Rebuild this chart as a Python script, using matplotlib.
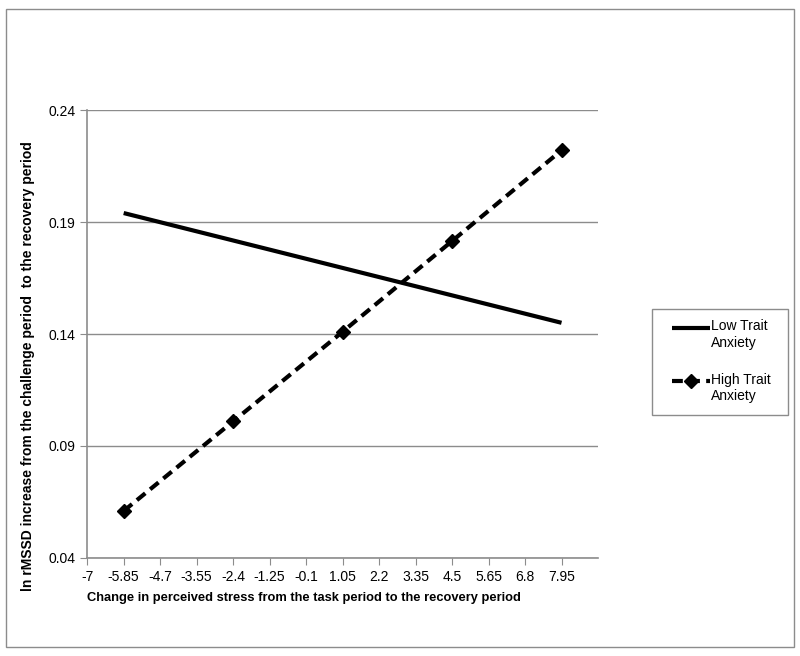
import numpy as np
import matplotlib.pyplot as plt
from matplotlib.patches import Rectangle
from matplotlib.legend_handler import HandlerLine2D

plt.rcParams['font.family'] = ['Liberation Sans', 'DejaVu Sans']

# x tick labels (category-like axis, step 1.15)
x_ticks = [-7, -5.85, -4.7, -3.55, -2.4, -1.25, -0.1, 1.05, 2.2, 3.35, 4.5, 5.65, 6.8, 7.95]
y_ticks = [0.04, 0.09, 0.14, 0.19, 0.24]

# Low trait anxiety (simple slope, end points only)
low_x = [-5.85, 7.95]
low_y = [0.194, 0.145]

# High trait anxiety
high_x = [-5.85, -2.4, 1.05, 4.5, 7.95]
high_y = [0.061, 0.101, 0.141, 0.1815, 0.222]


class TopLineHandler(HandlerLine2D):
    # put the legend handle next to the first text line, like Excel does
    def create_artists(self, legend, orig_handle, xdescent, ydescent, width, height, fontsize, trans):
        return super().create_artists(legend, orig_handle, xdescent, ydescent - 11, width, height,
                                      fontsize, trans)


fig = plt.figure(figsize=(8, 6.56), dpi=100)
ax = fig.add_axes([0.109, 0.1494, 0.6385, 0.6829])

# outer chart border
fig.patches.append(Rectangle((0.008, 0.014), 0.984, 0.973, transform=fig.transFigure,
                             fill=False, edgecolor='#8c8c8c', linewidth=1.0))
# legend frame (drawn by hand, Excel style)
fig.patches.append(Rectangle((652 / 800, 1 - 415 / 656), 136 / 800, 106 / 656, transform=fig.transFigure,
                             fill=False, edgecolor='#8c8c8c', linewidth=1.0))

ax.plot(low_x, low_y, color='black', linewidth=3, solid_capstyle='butt', label='Low Trait\nAnxiety')
ax.plot(high_x, high_y, color='black', linewidth=3, linestyle=(0, (2.6, 1.5)),
        marker='D', markersize=7, label='High Trait\nAnxiety')

ax.set_xlim(-7, 9.1)
ax.set_ylim(0.04, 0.24)
ax.set_xticks(x_ticks)
ax.set_xticklabels([f'{v:g}' for v in x_ticks])
ax.set_yticks(y_ticks)
ax.set_yticklabels([f'{v:.2f}' for v in y_ticks])
ax.grid(axis='y', color='#8c8c8c', linewidth=1.0)
ax.set_axisbelow(True)

for s in ['top', 'right']:
    ax.spines[s].set_visible(False)
for s in ['left', 'bottom']:
    ax.spines[s].set_color('#8c8c8c')
    ax.spines[s].set_linewidth(1.2)
ax.tick_params(axis='both', colors='#8c8c8c', labelcolor='black', labelsize=10, length=5, direction='out')

ax.set_xlabel('Change in perceived stress from the task period to the recovery period',
              fontsize=9.3, fontweight='bold', loc='left', labelpad=6)
ax.set_ylabel('ln rMSSD increase from the challenge period  to the recovery period',
              fontsize=10, fontweight='bold')
ax.yaxis.set_label_coords(-0.1018, 0.4286)

leg = ax.legend(loc='upper left', bbox_to_anchor=(662 / 800, 1 - 309 / 656), bbox_transform=fig.transFigure,
                frameon=False, fontsize=10, borderaxespad=0,
                handlelength=2.7, handletextpad=0.1, labelspacing=1.7, borderpad=0.75,
                handler_map={plt.Line2D: TopLineHandler()})

fig.savefig('out.png', dpi=100)
